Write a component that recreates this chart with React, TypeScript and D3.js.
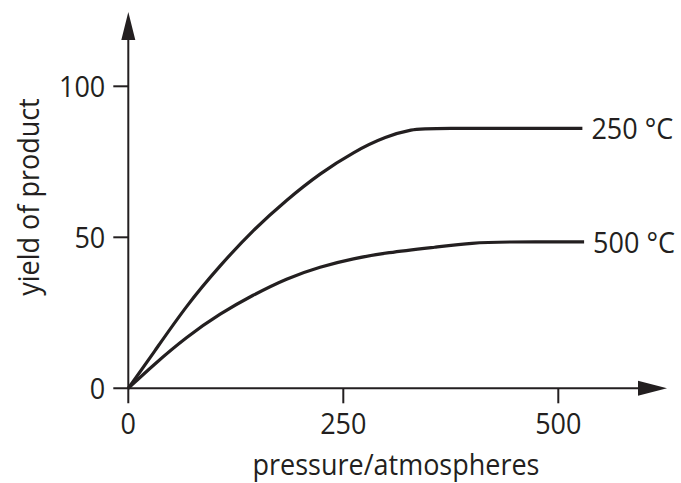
import * as d3 from "d3";

const INK = "#231f20";
const FONT = "'Open Sans', sans-serif";
const FS = 30;
const SX = 0.9;

const xTicks = [0, 250, 500];
const yTicks = [0, 50, 100];

// pressure (atm) vs yield
const yield250: [number, number][] = [
  [0, 0], [29, 11.6], [68, 27.6], [107, 40.8], [145, 52.4], [184, 62.4],
  [223, 71.2], [262, 78.3], [300, 83.5], [331, 85.8], [348, 86.1], [528, 86.1],
];
const yield500: [number, number][] = [
  [0, 0], [29, 7.7], [68, 17.1], [107, 24.8], [145, 30.9], [184, 36.4],
  [223, 40.3], [262, 43.0], [300, 44.9], [359, 46.8], [401, 48.2], [435, 48.5], [530, 48.5],
];
const seriesLabels = ["250 °C", "500 °C"];

// condensed-looking text: bigger font squeezed horizontally
const Label = ({
  x,
  y,
  anchor = "start",
  rotate = 0,
  children,
}: {
  x: number;
  y: number;
  anchor?: "start" | "middle" | "end";
  rotate?: number;
  children: React.ReactNode;
}) => (
  <g transform={`translate(${x},${y}) rotate(${rotate}) scale(${SX},1)`}>
    <text textAnchor={anchor} fontSize={FS} fill={INK}>
      {children}
    </text>
  </g>
);

export default function App() {
  const width = 681;
  const height = 483;
  const x = d3.scaleLinear().domain([0, 500]).range([128.3, 558.3]);
  const y = d3.scaleLinear().domain([0, 100]).range([388.3, 86.3]);

  const line = d3
    .line<[number, number]>()
    .x(([px]) => x(px))
    .y(([, py]) => y(py))
    .curve(d3.curveBasis);

  const x0 = x(0);
  const y0 = y(0);
  const TICK = 15;
  const series = [yield250, yield500];

  return (
    <svg
      width={width}
      height={height}
      style={{ position: "absolute", left: 0, top: 0, background: "#fff" }}
      fontFamily={FONT}
    >
      {/* axes */}
      <line x1={x0} x2={x0} y1={y0 + TICK} y2={36} stroke={INK} strokeWidth={2} />
      <path d={`M${x0},12 L${x0 + 7},40 L${x0 - 7},40 Z`} fill={INK} />
      <line x1={x0 - TICK} x2={642} y1={y0} y2={y0} stroke={INK} strokeWidth={2} />
      <path d={`M667,${y0} L638,${y0 - 7.5} L638,${y0 + 7.5} Z`} fill={INK} />

      {xTicks.map((t) => (
        <g key={t}>
          {t !== 0 && (
            <line x1={x(t)} x2={x(t)} y1={y0} y2={y0 + TICK} stroke={INK} strokeWidth={2} />
          )}
          <Label x={x(t)} y={434} anchor="middle">
            {t}
          </Label>
        </g>
      ))}
      {yTicks.map((t) => (
        <g key={t}>
          {t !== 0 && (
            <line x1={x0} x2={x0 - TICK} y1={y(t)} y2={y(t)} stroke={INK} strokeWidth={2} />
          )}
          <Label x={x0 - 23} y={y(t) + 11} anchor="end">
            {t}
          </Label>
        </g>
      ))}

      {/* curves */}
      {series.map((d, i) => (
        <path key={i} d={line(d) ?? undefined} fill="none" stroke={INK} strokeWidth={3.2} />
      ))}
      {series.map((d, i) => {
        const last = d[d.length - 1];
        return (
          <Label key={i} x={x(last[0]) + 9} y={y(last[1]) + 11}>
            {seriesLabels[i]}
          </Label>
        );
      })}

      {/* axis titles */}
      <Label x={396} y={475} anchor="middle">
        pressure/atmospheres
      </Label>
      <Label x={39} y={197} anchor="middle" rotate={-90}>
        yield of product
      </Label>
    </svg>
  );
}
